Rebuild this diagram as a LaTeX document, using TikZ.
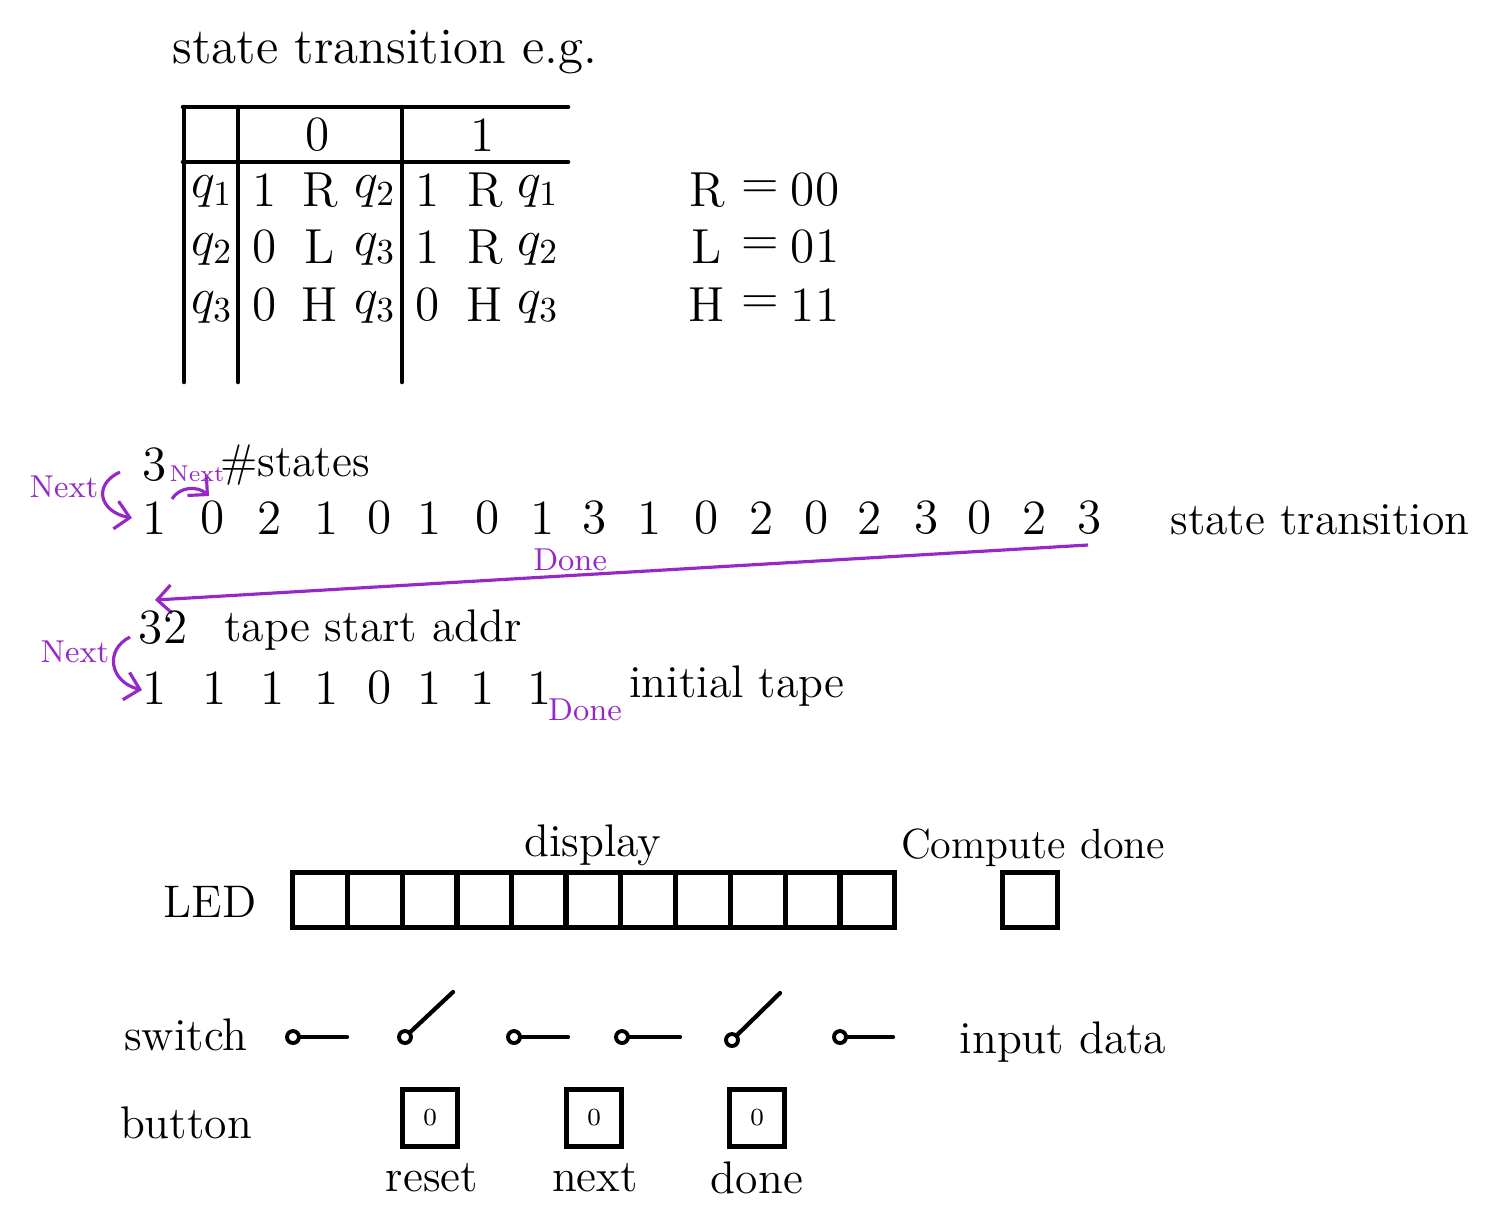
\documentclass[tikz,border=0pt]{standalone}
\usepackage{amsmath}
\usetikzlibrary{arrows.meta,positioning,calc}
\definecolor{pen}{RGB}{150,40,200}

\begin{document}
\begin{tikzpicture}[
    x=0.01cm, y=-0.01cm,
    txt/.style={font=\fontsize{14}{16}\selectfont, inner sep=1pt},
    big/.style={font=\fontsize{13}{15}\selectfont, inner sep=1pt},
    note/.style={font=\fontsize{9}{11}\selectfont, text=pen, inner sep=1pt},
    rule/.style={line width=1.3pt, line cap=round},
    cell/.style={draw, line width=1.2pt, minimum width=0.548cm, minimum height=0.55cm, inner sep=0pt},
    knob/.style={draw, line width=1.1pt, circle, minimum size=0.12cm, inner sep=0pt},
    arm/.style={line width=1.2pt, line cap=round},
    parr/.style={draw=pen, line width=0.9pt, -{Straight Barb[length=4pt]}}
]
\useasboundingbox (0,0) rectangle (1500,1223);

% transition table
\node[big, font=\fontsize{14.5}{17}\selectfont] (title) at (385,52) {state transition e.g.};
\draw[rule] (183,107) -- (568,107);
\draw[rule] (183,162) -- (568,162);
\draw[rule] (184,107) -- (184,382);
\draw[rule] (238,107) -- (238,382);
\draw[rule] (402,107) -- (402,382);
\node[txt] (h0) at (318,135) {0};
\node[txt] (h1) at (483,135) {1};

\node[txt] (r1) at (212,192) {$q_1$};
\node[txt] at (265,190) {1}; \node[txt] at (320,190) {R}; \node[txt] at (375,192) {$q_2$};
\node[txt] at (428,190) {1}; \node[txt] at (485,190) {R}; \node[txt] at (538,192) {$q_1$};
\node[txt] (r2) at (212,250) {$q_2$};
\node[txt] at (265,247) {0}; \node[txt] at (320,247) {L}; \node[txt] at (375,250) {$q_3$};
\node[txt] at (428,247) {1}; \node[txt] at (485,247) {R}; \node[txt] at (538,250) {$q_2$};
\node[txt] (r3) at (212,308) {$q_3$};
\node[txt] at (265,305) {0}; \node[txt] at (320,305) {H}; \node[txt] at (375,308) {$q_3$};
\node[txt] at (428,305) {0}; \node[txt] at (485,305) {H}; \node[txt] at (538,308) {$q_3$};

% move codes
\node[txt] (mR) at (707,190) {R}; \node[txt] at (760,190) {=}; \node[txt] at (815,190) {00};
\node[txt] (mL) at (707,247) {L}; \node[txt] at (760,247) {=}; \node[txt] at (815,247) {01};
\node[txt] (mH) at (707,305) {H}; \node[txt] at (760,305) {=}; \node[txt] at (815,305) {11};

% encoded transitions
\node[txt] (nst) at (155,465) {3};
\node[big] (lst) at (295,465) {\#states};
\node[txt] (d1) at (155,518) {1};   \node[txt] (d2) at (213,518) {0};
\node[txt] (d3) at (270,518) {2};   \node[txt] (d4) at (327,518) {1};
\node[txt] (d5) at (380,518) {0};   \node[txt] (d6) at (430,518) {1};
\node[txt] (d7) at (488,518) {0};   \node[txt] (d8) at (543,518) {1};
\node[txt] (d9) at (595,518) {3};   \node[txt] (d10) at (650,518) {1};
\node[txt] (d11) at (707,518) {0};  \node[txt] (d12) at (762,518) {2};
\node[txt] (d13) at (817,518) {0};  \node[txt] (d14) at (870,518) {2};
\node[txt] (d15) at (927,518) {3};  \node[txt] (d16) at (980,518) {0};
\node[txt] (d17) at (1035,518) {2}; \node[txt] (d18) at (1090,518) {3};
\node[big] (lseq) at (1320,520) {state transition};

\node[note] (nx1) at (64,487) {Next};
\coordinate (nx1a) at (120,472);
\coordinate (nx1b) at (132,518);
\draw[parr] (nx1a) .. controls (92,485) and (100,512) .. (nx1b);
\node[note, font=\fontsize{6.5}{8}\selectfont] (nx2) at (197,474) {Next};
\coordinate (nx2a) at (172,499);
\coordinate (nx2b) at (209,496);
\draw[parr] (nx2a) .. controls (180,486) and (198,486) .. (nx2b);

\coordinate (dn0) at (1088,545);
\coordinate (dn1) at (155,600);
\draw[parr] (dn0) -- node[note, pos=0.555, above=0pt] (dn) {Done} (dn1);

% tape
\node[txt] (addr) at (163,628) {32};
\node[big] (laddr) at (373,630) {tape start addr};
\node[txt] (t1) at (155,688) {1}; \node[txt] (t2) at (215,688) {1};
\node[txt] (t3) at (273,688) {1}; \node[txt] (t4) at (327,688) {1};
\node[txt] (t5) at (380,688) {0}; \node[txt] (t6) at (430,688) {1};
\node[txt] (t7) at (483,688) {1}; \node[txt] (t8) at (540,688) {1};
\node[note] (dn2) at (585,710) {Done};
\node[big] (ltape) at (737,686) {initial tape};

\node[note] (nx3) at (75,652) {Next};
\coordinate (nx3a) at (130,637);
\coordinate (nx3b) at (142,690);
\draw[parr] (nx3a) .. controls (104,650) and (110,682) .. (nx3b);

% display
\node[big] (ldisp) at (593,845) {display};
\node[big] (lled) at (210,902) {LED};
\node[cell] (l1) at (320,900) {};  \node[cell] (l2) at (375,900) {};
\node[cell] (l3) at (430,900) {};  \node[cell] (l4) at (484,900) {};
\node[cell] (l5) at (539,900) {};  \node[cell] (l6) at (593,900) {};
\node[cell] (l7) at (648,900) {};  \node[cell] (l8) at (703,900) {};
\node[cell] (l9) at (758,900) {};  \node[cell] (l10) at (813,900) {};
\node[cell] (l11) at (867,900) {};
\node[big, font=\fontsize{12}{14}\selectfont] (ldone) at (1033,848) {Compute done};
\node[cell] (ldn) at (1030,900) {};

% switches
\node[big] (lsw) at (186,1035) {switch};
\node[knob] (k1) at (293,1037) {}; \coordinate (e1) at (347,1037);
\node[knob] (k2) at (405,1037) {}; \coordinate (e2) at (453,992);
\node[knob] (k3) at (514,1037) {}; \coordinate (e3) at (568,1037);
\node[knob] (k4) at (622,1037) {}; \coordinate (e4) at (680,1037);
\node[knob] (k5) at (732,1040) {}; \coordinate (e5) at (780,993);
\node[knob] (k6) at (840,1037) {}; \coordinate (e6) at (893,1037);
\draw[arm] (k1) -- (e1);
\draw[arm] (k2) -- (e2);
\draw[arm] (k3) -- (e3);
\draw[arm] (k4) -- (e4);
\draw[arm] (k5) -- (e5);
\draw[arm] (k6) -- (e6);
\node[big] (lin) at (1063,1042) {input data};

% buttons
\node[big] (lbt) at (186,1123) {button};
\node[cell, minimum height=0.57cm] (b1) at (430,1118) {\scriptsize 0};
\node[cell, minimum height=0.57cm] (b2) at (594,1118) {\scriptsize 0};
\node[cell, minimum height=0.57cm] (b3) at (757,1118) {\scriptsize 0};
\node[big] (lb1) at (432,1178) {reset};
\node[big] (lb2) at (595,1178) {next};
\node[big] (lb3) at (757,1178) {done};
\end{tikzpicture}
\end{document}
